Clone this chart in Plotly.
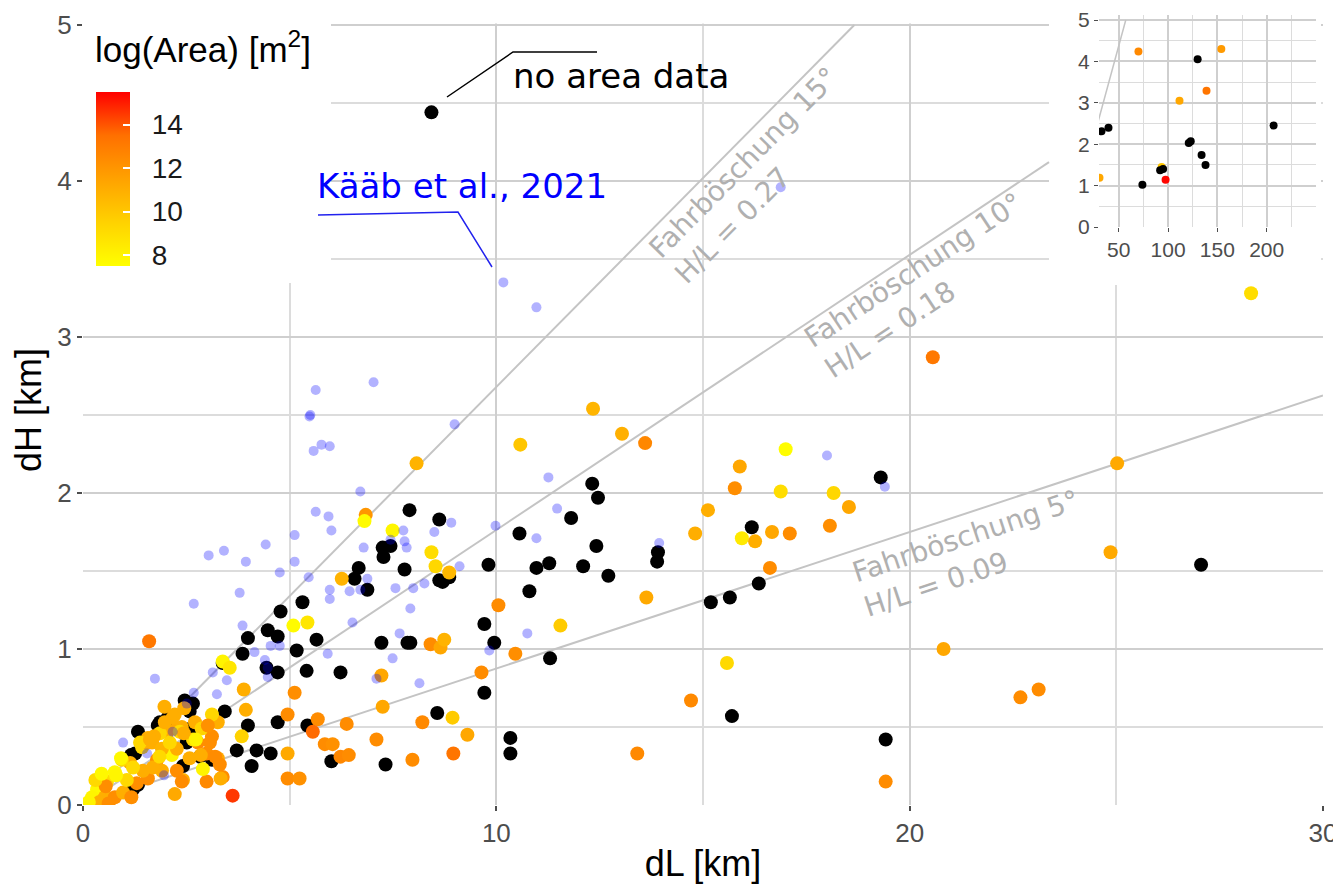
import math
import plotly.graph_objects as go

# ---------------- data ----------------
# Kääb et al., 2021 (blue, semi-transparent)
kaab_dl = [10.17, 10.97, 16.88, 18.0, 19.4, 11.26, 11.47, 10.97, 9.98, 13.94,
           7.03, 5.63, 5.48, 5.50, 5.77, 5.97, 5.58, 8.99, 6.71, 5.63, 5.94, 6.01,
           5.12, 4.42, 3.41, 3.04, 3.94, 5.12, 4.76, 5.46, 6.79, 7.75, 7.78, 7.83,
           7.44, 8.50, 8.91, 9.11, 6.88, 5.97, 6.45, 6.71, 7.56, 7.99, 8.26, 5.97,
           3.79, 2.68, 7.92, 1.74, 0.97, 3.14, 3.48, 3.24, 2.68, 2.51, 3.86, 4.15,
           4.40, 4.54, 4.76, 4.47, 4.47, 6.52, 5.92, 7.49, 7.66, 10.75, 9.83, 8.14,
           7.10, 1.55, 2.17, 1.96]
kaab_dh = [3.35, 3.19, 3.96, 2.24, 2.04, 2.10, 1.90, 1.71, 1.79, 1.68,
           2.71, 2.66, 2.49, 2.50, 2.31, 2.30, 2.27, 2.44, 2.01, 1.88, 1.85, 1.76,
           1.73, 1.67, 1.63, 1.60, 1.56, 1.56, 1.49, 1.46, 1.65, 1.76, 1.69, 1.65,
           1.70, 1.75, 1.81, 1.53, 1.45, 1.38, 1.37, 1.38, 1.39, 1.39, 1.42, 1.32,
           1.36, 1.29, 1.26, 0.81, 0.40, 0.85, 0.80, 0.71, 0.72, 0.65, 1.15, 0.98,
           0.93, 1.02, 1.02, 0.82, 0.88, 1.17, 0.97, 0.94, 1.10, 1.10, 0.99, 0.78,
           0.81, 0.33, 0.47, 0.19]

# points without area data (black)
noarea_dl = [8.43, 19.30, 12.32, 12.46, 11.81, 10.56, 9.81, 10.97, 11.28, 12.10,
             12.42, 12.71, 10.80, 13.91, 13.89, 16.18, 16.35, 15.19, 15.65, 9.71,
             8.70, 7.92, 9.95, 11.30, 9.71, 8.57, 10.34, 10.34, 15.70, 19.42,
             27.05, 7.90, 8.62, 7.25, 7.44, 7.27, 6.67, 6.57, 6.88, 7.78,
             8.62, 8.86, 5.31, 4.78, 4.47, 4.71, 3.99, 3.86, 5.17, 5.65,
             5.41, 6.23, 7.22, 7.85, 4.44, 4.71, 3.38, 2.66, 3.43, 3.99,
             4.71, 5.43, 6.01, 7.32, 3.72, 4.20, 4.54, 4.08, 2.83, 2.05,
             1.86, 1.26, 1.21, 2.42, 1.33, 2.51, 3.12, 2.61, 2.58, 2.08,
             1.81, 1.33, 1.16, 2.46]
noarea_dh = [4.44, 2.10, 2.06, 1.97, 1.84, 1.74, 1.54, 1.52, 1.55, 1.53,
             1.66, 1.47, 1.37, 1.62, 1.56, 1.78, 1.42, 1.30, 1.33, 1.16,
             1.43, 1.04, 1.04, 0.94, 0.72, 0.59, 0.43, 0.33, 0.57, 0.42,
             1.54, 1.89, 1.83, 1.65, 1.66, 1.59, 1.52, 1.45, 1.38, 1.51,
             1.44, 1.46, 1.30, 1.24, 1.12, 1.08, 1.07, 0.97, 0.99, 1.06,
             0.86, 0.85, 1.04, 1.04, 0.88, 0.85, 0.91, 0.65, 0.60, 0.51,
             0.53, 0.51, 0.28, 0.26, 0.35, 0.35, 0.33, 0.25, 0.31, 0.56,
             0.53, 0.33, 0.10, 0.25, 0.47, 0.40, 0.29, 0.49, 0.60, 0.55,
             0.51, 0.13, 0.32, 0.67]

# points with area data, coloured by log(Area)
area_dl = [12.34, 13.04, 13.60, 10.58, 17.00, 15.89, 15.77, 16.88, 18.16, 18.53,
           18.07, 15.12, 14.81, 16.67, 17.10, 15.94, 16.26, 16.62, 10.05, 13.63,
           11.55, 8.41, 8.65, 8.74, 10.46, 9.64, 8.21, 8.94, 9.30, 7.97,
           8.96, 13.41, 14.71, 15.58, 19.42, 20.82, 20.56, 28.26, 25.02, 24.86,
           22.68, 23.12, 8.07, 6.84, 6.81, 7.49, 6.26, 8.43, 8.53, 8.86,
           5.09, 5.43, 1.60, 5.12, 3.89, 3.38, 3.55, 3.94, 3.84, 4.95,
           5.68, 5.56, 6.38, 7.10, 7.25, 7.22, 5.85, 6.04, 6.23, 6.43,
           4.95, 4.95, 5.24, 3.62, 2.22, 3.38, 2.99, 2.90, 2.42, 2.78,
           3.12, 3.26, 3.26, 2.66, 3.12, 2.71, 2.05, 2.27, 2.39, 1.67,
           1.43, 1.79, 2.15, 2.27, 1.91, 1.57, 1.14, 0.94, 0.77, 0.58,
           0.34, 0.22, 0.53, 0.77, 0.97, 1.30, 1.06, 1.45, 1.69, 2.27,
           1.91, 1.57, 1.86, 2.34, 2.99, 3.31, 2.58, 2.10, 2.44, 2.87,
           3.02, 2.17, 1.72, 1.55, 3.33, 2.39, 0.92, 1.21, 0.80, 1.38,
           1.62, 1.98, 2.22, 2.73, 3.07, 2.85, 3.20, 1.85, 1.97, 2.45,
           0.55, 0.40, 0.62, 0.14, 0.30, 0.45, 1.17]
area_dh = [2.54, 2.38, 2.32, 2.31, 2.28, 2.17, 2.03, 2.01, 2.00, 1.91,
           1.79, 1.89, 1.74, 1.75, 1.74, 1.71, 1.69, 1.52, 1.28, 1.33,
           1.15, 1.03, 1.01, 1.06, 0.97, 0.85, 0.53, 0.56, 0.45, 0.29,
           0.33, 0.33, 0.67, 0.91, 0.15, 1.00, 2.87, 3.28, 2.19, 1.62,
           0.69, 0.74, 2.19, 1.86, 1.82, 1.76, 1.45, 1.62, 1.53, 1.49,
           1.15, 1.17, 1.05, 0.72, 0.74, 0.92, 0.88, 0.61, 0.44, 0.58,
           0.55, 0.47, 0.52, 0.42, 0.63, 0.83, 0.39, 0.39, 0.31, 0.32,
           0.33, 0.17, 0.17, 0.06, 0.07, 0.18, 0.15, 0.23, 0.16, 0.40,
           0.44, 0.30, 0.53, 0.42, 0.58, 0.53, 0.47, 0.49, 0.50, 0.40,
           0.37, 0.29, 0.32, 0.22, 0.22, 0.17, 0.27, 0.29, 0.21, 0.15,
           0.10, 0.05, 0.05, 0.05, 0.08, 0.14, 0.16, 0.22, 0.24, 0.36,
           0.36, 0.43, 0.46, 0.47, 0.33, 0.26, 0.30, 0.40, 0.46, 0.49,
           0.51, 0.56, 0.44, 0.40, 0.17, 0.15, 0.30, 0.24, 0.19, 0.40,
           0.42, 0.53, 0.58, 0.42, 0.40, 0.32, 0.31, 0.31, 0.63, 0.62,
           0.12, 0.02, 0.01, 0.02, 0.16, 0.20, 0.05]
area_log = [10.7, 10.9, 12.6, 10.0, 7.6, 11.3, 12.3, 9.0, 9.3, 11.3,
            12.3, 11.0, 11.0, 11.3, 12.4, 8.5, 11.0, 12.4, 12.4, 11.2,
            9.8, 12.4, 11.3, 10.8, 12.3, 12.4, 12.5, 9.8, 11.3, 12.4,
            13.3, 12.5, 12.5, 9.2, 12.4, 11.3, 13.2, 9.0, 11.2, 11.2,
            12.4, 12.4, 10.8, 12.0, 7.7, 7.9, 10.8, 9.0, 9.3, 10.6,
            7.7, 8.6, 13.2, 12.3, 11.0, 8.0, 8.6, 11.0, 9.5, 12.4,
            12.4, 13.6, 12.4, 12.4, 11.3, 11.3, 12.4, 12.2, 12.6, 12.4,
            11.2, 12.4, 12.2, 14.5, 11.2, 12.4, 12.5, 8.0, 11.0, 12.4,
            12.3, 11.2, 11.0, 9.3, 9.3, 11.0, 11.0, 11.2, 11.0, 11.0,
            9.3, 12.3, 8.0, 12.3, 11.0, 12.3, 11.0, 9.2, 7.8, 9.2,
            7.8, 8.0, 11.0, 12.3, 11.0, 12.3, 9.2, 11.0, 11.0, 11.0,
            10.8, 11.0, 9.3, 9.2, 12.3, 12.4, 11.0, 9.3, 11.0, 9.4,
            12.2, 11.0, 11.0, 11.0, 11.0, 12.4, 7.8, 9.2, 7.9, 9.3,
            11.0, 11.0, 11.0, 8.0, 12.3, 11.0, 12.4, 9.2, 11.0, 11.0,
            12.3, 11.0, 12.3, 8.0, 9.2, 7.8, 12.3]

# inset (large runouts)
inset_noarea_dl = [32.5, 39.6, 74, 92, 95, 121, 123, 130, 134, 138, 207]
inset_noarea_dh = [2.31, 2.40, 1.02, 1.37, 1.40, 2.03, 2.07, 4.05, 1.74, 1.50, 2.45]
inset_area_dl = [30.5, 70, 93.5, 97.5, 111.6, 139, 154]
inset_area_dh = [1.19, 4.24, 1.45, 1.14, 3.05, 3.29, 4.30]
inset_area_log = [11.3, 12.5, 10.0, 15.4, 11.3, 13.3, 11.8]

# Fahrböschung reference angles
fb_angles = [15, 10, 5]
fb_labels = ["Fahrböschung 15°<br>H/L = 0.27",
             "Fahrböschung 10°<br>H/L = 0.18",
             "Fahrböschung 5°<br>H/L = 0.09"]

cb_ticks = [8, 10, 12, 14]
inset_xticks = [50, 100, 150, 200]

# ---------------- layout geometry (screen pixels) ----------------
OFF = 8                      # default page body margin
SW, SH = 1341, 888           # screen size
PL, PR, PT, PB = 83, 1323, 15, 805   # plot area in screen pixels
W, H = SW - OFF, SH - OFF
ML, MT = PL - OFF, PT - OFF
MR, MB = W - (PR - OFF), H - (PB - OFF)
PW, PH = PR - PL, PB - PT
XMAX = 30
PX_PER_KM_Y = 156.0
YMAX = PH / PX_PER_KM_Y

# inset: y=0 at 227 px, y=5 at 20 px
INSET_Y0_PX, INSET_Y5_PX = 227, 20
INSET_YTOP = 5 + (INSET_Y5_PX - PT) / ((INSET_Y0_PX - INSET_Y5_PX) / 5)


def px2x(px):
    return (px - PL) / PW * XMAX


def py2y(py):
    return (PB - py) / PX_PER_KM_Y


def paper_x(px):
    return (px - PL) / PW


def paper_y(py):
    return (PB - py) / PH


COLORSCALE = [[0, "#FFFF00"], [0.25, "#FFD200"], [0.5, "#FFA200"],
              [0.75, "#FF7000"], [1, "#FF0000"]]
CMIN, CMAX = 7.5, 15.5
GRID = "#CFCFCF"
GRID_MINOR = "#DCDCDC"
SANS = "Liberation Sans, Arial, sans-serif"
TICKFONT = dict(family=SANS, size=26, color="#4D4D4D")
ANNFONT = "DejaVu Sans, Verdana, sans-serif"

# patches (white areas that hide the main panel under legend / inset)
tl_patch = dict(x0=-0.5, x1=px2x(331), y0=py2y(283), y1=YMAX + 1)
inset_patch = dict(x0=px2x(1049), x1=px2x(1321), y0=py2y(285), y1=YMAX + 1)

fig = go.Figure()

# reference lines, main panel
for a in fb_angles:
    m = math.tan(math.radians(a))
    xe = min(XMAX, 5 / m)
    if m * inset_patch["x0"] > inset_patch["y0"]:
        xe = min(xe, inset_patch["x0"])
    fig.add_trace(go.Scatter(x=[0, xe], y=[0, m * xe], mode="lines",
                             line=dict(color="#C4C4C4", width=2),
                             hoverinfo="skip", showlegend=False))

fig.add_trace(go.Scatter(x=noarea_dl, y=noarea_dh, mode="markers",
                         marker=dict(color="black", size=14, line=dict(width=0)),
                         showlegend=False))
fig.add_trace(go.Scatter(
    x=area_dl, y=area_dh, mode="markers", showlegend=False,
    marker=dict(color=area_log, colorscale=COLORSCALE, cmin=CMIN, cmax=CMAX,
                size=14, line=dict(width=0), showscale=True,
                colorbar=dict(x=paper_x(96), xanchor="left", y=paper_y(179),
                              yanchor="middle", len=174, lenmode="pixels",
                              thickness=34, thicknessmode="pixels", xpad=0, ypad=0,
                              outlinewidth=0, tickvals=cb_ticks,
                              ticktext=["\u00a0\u00a0" + str(t) for t in cb_ticks],
                              ticks="inside", ticklen=7, tickcolor="white",
                              tickwidth=1.5,
                              tickfont=dict(family=SANS, size=28, color="#1A1A1A")))))
fig.add_trace(go.Scatter(x=kaab_dl, y=kaab_dh, mode="markers", showlegend=False,
                         marker=dict(color="rgba(0,0,255,0.30)", size=10,
                                     line=dict(width=0))))

# inset
for a in fb_angles:
    m = math.tan(math.radians(a))
    xe = 5 / m
    fig.add_trace(go.Scatter(x=[0, xe], y=[0, 5], mode="lines", xaxis="x2", yaxis="y2",
                             line=dict(color="#C4C4C4", width=1.5),
                             hoverinfo="skip", showlegend=False))
fig.add_trace(go.Scatter(
    x=inset_area_dl, y=inset_area_dh, mode="markers", xaxis="x2", yaxis="y2",
    showlegend=False,
    marker=dict(color=inset_area_log, colorscale=COLORSCALE, cmin=CMIN, cmax=CMAX,
                size=8, line=dict(width=0), showscale=False)))
fig.add_trace(go.Scatter(x=inset_noarea_dl, y=inset_noarea_dh, mode="markers",
                         xaxis="x2", yaxis="y2", showlegend=False,
                         marker=dict(color="black", size=8, line=dict(width=0))))

shapes = []
for p in (tl_patch, inset_patch):
    shapes.append(dict(type="rect", xref="x", yref="y", layer="between",
                       fillcolor="white", line=dict(width=0), **p))
shapes.append(dict(type="rect", xref="x", yref="y", layer="between",
                   x0=-1, x1=XMAX + 1, y0=5.01, y1=YMAX + 1,
                   fillcolor="white", line=dict(width=0)))
# leader lines
shapes.append(dict(type="path", xref="x", yref="y", layer="above",
                   path=f"M {px2x(447)},{py2y(97)} L {px2x(513)},{py2y(52)} L {px2x(597)},{py2y(52)}",
                   line=dict(color="black", width=1.5)))
shapes.append(dict(type="path", xref="x", yref="y", layer="above",
                   path=f"M {px2x(318)},{py2y(215)} L {px2x(458)},{py2y(212)} L {px2x(492)},{py2y(267)}",
                   line=dict(color="#2222EE", width=1.5)))

annotations = [
    dict(x=px2x(511), y=py2y(76), xref="x", yref="y", text="no area data",
         showarrow=False, xanchor="left", yanchor="middle",
         font=dict(family=ANNFONT, size=34, color="black")),
    dict(x=px2x(315), y=py2y(186), xref="x", yref="y", text="Kääb et al., 2021",
         showarrow=False, xanchor="left", yanchor="middle",
         font=dict(family=ANNFONT, size=34, color="#0000FF")),
    dict(x=paper_x(93), y=paper_y(47), xref="paper", yref="paper",
         text="log(Area) [m<sup>2</sup>]", showarrow=False, xanchor="left",
         yanchor="middle", font=dict(family=SANS, size=35, color="black")),
]
fb_pos = [(756, 175, -45.3), (923, 285, -33.6), (971, 553, -18.3)]
for (cx, cy, ang), lab in zip(fb_pos, fb_labels):
    annotations.append(dict(x=px2x(cx), y=py2y(cy), xref="x", yref="y", text=lab,
                            showarrow=False, textangle=ang, align="left",
                            xanchor="center", yanchor="middle",
                            font=dict(family=ANNFONT, size=28, color="#B0B0B0")))

fig.update_layout(
    width=W, height=H, margin=dict(l=ML, r=MR, t=MT, b=MB, autoexpand=False),
    paper_bgcolor="white", plot_bgcolor="white", showlegend=False,
    shapes=shapes, annotations=annotations,
    xaxis=dict(range=[0, XMAX], domain=[0, 1], tickvals=[0, 10, 20, 30],
               ticks="outside", ticklen=5, tickwidth=1.5, tickcolor="#4D4D4D",
               showgrid=True, gridcolor=GRID, gridwidth=2,
               minor=dict(dtick=5, showgrid=True, gridcolor=GRID_MINOR, gridwidth=1.5),
               zeroline=False, showline=False, tickfont=TICKFONT,
               ticklabeloverflow="allow",
               title=dict(text="dL [km]", standoff=3,
                          font=dict(family=SANS, size=36, color="black"))),
    yaxis=dict(range=[0, YMAX], domain=[0, 1], tickvals=[0, 1, 2, 3, 4, 5],
               ticks="outside", ticklen=5, tickwidth=1.5, tickcolor="#4D4D4D",
               showgrid=True, gridcolor=GRID, gridwidth=2,
               minor=dict(tickvals=[0.5, 1.5, 2.5, 3.5, 4.5], showgrid=True,
                          gridcolor=GRID_MINOR, gridwidth=1.5),
               zeroline=False, showline=False, tickfont=TICKFONT,
               ticklabeloverflow="allow",
               title=dict(text="dH [km]", standoff=5,
                          font=dict(family=SANS, size=36, color="black"))),
    xaxis2=dict(range=[30, 250], domain=[paper_x(1099), paper_x(1316)], anchor="y2",
                tickvals=inset_xticks,
                ticks="outside", ticklen=4, tickcolor="#4D4D4D",
                showgrid=True, gridcolor=GRID, gridwidth=1.5,
                minor=dict(tickvals=[75, 125, 175, 225, 250], showgrid=True,
                           gridcolor=GRID_MINOR, gridwidth=1),
                zeroline=False, showline=False, ticklabeloverflow="allow",
                tickfont=dict(family=SANS, size=21, color="#4D4D4D")),
    yaxis2=dict(range=[0, INSET_YTOP], domain=[paper_y(INSET_Y0_PX), 1.0], anchor="x2",
                tickvals=[0, 1, 2, 3, 4, 5], ticks="outside", ticklen=4,
                tickcolor="#4D4D4D", showgrid=True, gridcolor=GRID, gridwidth=1.5,
                minor=dict(tickvals=[0.5, 1.5, 2.5, 3.5, 4.5], showgrid=True,
                           gridcolor=GRID_MINOR, gridwidth=1),
                zeroline=False, showline=False, ticklabeloverflow="allow",
                tickfont=dict(family=SANS, size=21, color="#4D4D4D")),
)

fig.write_html("out.html")
